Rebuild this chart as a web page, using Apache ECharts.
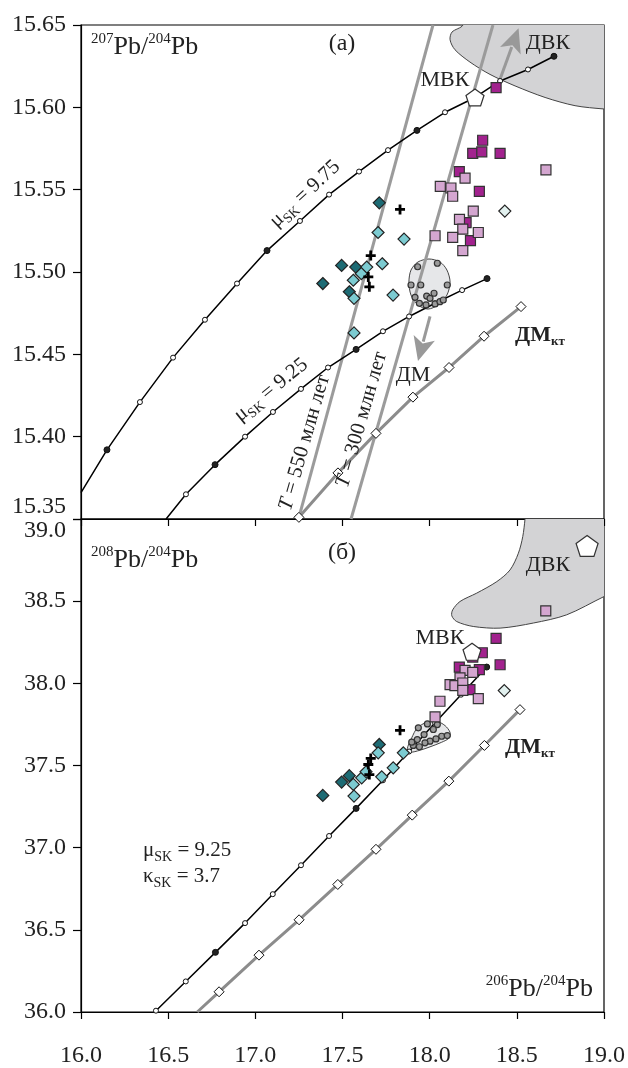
<!DOCTYPE html>
<html>
<head>
<meta charset="utf-8">
<script src="https://cdn.jsdelivr.net/npm/echarts@6/dist/echarts.min.js"></script>
<style>
  html, body { margin: 0; padding: 0; background: #fff; }
  #chart { width: 628px; height: 1068px; }
</style>
</head>
<body>
<div id="chart"></div>
<script>
// axis ticks
const xTicks = [16.0, 16.5, 17.0, 17.5, 18.0, 18.5, 19.0];
const yTicksA = [15.35, 15.40, 15.45, 15.50, 15.55, 15.60, 15.65];
const yTicksB = [36.0, 36.5, 37.0, 37.5, 38.0, 38.5, 39.0];

// panel (a) 207Pb/204Pb; third value: 0 no node, 1 open node, 2 filled node
const curveA975 = [
    [16.0, 15.366, 0], [16.149, 15.392, 2], [16.338, 15.421, 1], [16.528, 15.448, 1],
    [16.711, 15.471, 1], [16.895, 15.493, 1], [17.067, 15.513, 2], [17.256, 15.531, 1],
    [17.423, 15.547, 1], [17.595, 15.561, 1], [17.761, 15.574, 1], [17.927, 15.586, 2],
    [18.088, 15.597, 1], [18.26, 15.606, 0], [18.404, 15.616, 1], [18.564, 15.623, 1],
    [18.713, 15.631, 2]
];
const curveA925 = [
    [16.488, 15.35, 0], [16.602, 15.365, 1], [16.769, 15.383, 2], [16.941, 15.400, 1],
    [17.101, 15.415, 1], [17.262, 15.429, 1], [17.417, 15.442, 1], [17.578, 15.453, 2],
    [17.732, 15.464, 1], [17.882, 15.473, 1], [18.031, 15.481, 1], [18.186, 15.489, 1],
    [18.329, 15.496, 2]
];
const dmA = [
    [17.25, 15.351, 1], [17.474, 15.378, 1], [17.692, 15.402, 1], [17.904, 15.424, 1],
    [18.111, 15.442, 1], [18.312, 15.461, 1], [18.524, 15.479, 1]
];
const iso550 = [[17.25, 15.351], [18.019, 15.65]];
const iso300 = [[17.549, 15.35], [18.363, 15.65]];
const arrowsA = [
    [[18.40, 15.616], [18.51, 15.648]],
    [[18.002, 15.473], [17.933, 15.446]]
];
const dvkA = [
    [18.191, 15.66], [18.191, 15.65], [18.128, 15.6457], [18.117, 15.641], [18.145, 15.635],
    [18.231, 15.6275], [18.346, 15.620], [18.49, 15.613], [18.662, 15.606], [18.834, 15.601],
    [19.0, 15.599], [19.05, 15.599], [19.05, 15.66]
];
const fieldA = [
    [17.996, 15.5079], [18.059, 15.5061], [18.099, 15.5012], [18.117, 15.4939],
    [18.099, 15.4860], [18.048, 15.4800], [17.990, 15.4775], [17.933, 15.4800],
    [17.893, 15.4860], [17.881, 15.4939], [17.893, 15.5012], [17.933, 15.5061]
];
const fieldPtsA = [
    [17.931, 15.5032], [18.044, 15.5053], [17.893, 15.4921], [17.949, 15.4921],
    [18.101, 15.4921], [17.916, 15.4846], [17.983, 15.4854], [18.002, 15.4840],
    [18.025, 15.4871], [17.941, 15.4810], [17.979, 15.4800], [18.031, 15.4806],
    [18.059, 15.4820], [18.078, 15.4830]
];
const tealDarkA = [[17.711, 15.542], [17.495, 15.504], [17.576, 15.503], [17.539, 15.488], [17.387, 15.493]];
const tealLightA = [
    [17.704, 15.524], [17.853, 15.520], [17.728, 15.505], [17.639, 15.503], [17.608, 15.499],
    [17.562, 15.495], [17.566, 15.484], [17.790, 15.486], [17.566, 15.463]
];
const tealPaleA = [[18.431, 15.537]];
const crossA = [[17.830, 15.538], [17.662, 15.510], [17.648, 15.497], [17.654, 15.491]];
const pinkDarkA = [
    [18.381, 15.612], [18.304, 15.580], [18.247, 15.572], [18.299, 15.573], [18.404, 15.572],
    [18.170, 15.561], [18.285, 15.549], [18.209, 15.530], [18.234, 15.519]
];
const pinkLightA = [
    [18.667, 15.562], [18.203, 15.557], [18.061, 15.552], [18.122, 15.551], [18.132, 15.546],
    [18.250, 15.537], [18.171, 15.532], [18.190, 15.526], [18.279, 15.524], [18.031, 15.522],
    [18.132, 15.521], [18.190, 15.513]
];
const mbkA = [[18.26, 15.606]];

// panel (б) 208Pb/204Pb
const curveB = [
    [16.43, 36.008, 1], [16.601, 36.186, 1], [16.771, 36.363, 2], [16.941, 36.541, 1],
    [17.100, 36.717, 1], [17.262, 36.893, 1], [17.423, 37.071, 1], [17.578, 37.239, 2],
    [17.732, 37.41, 1], [17.882, 37.585, 1], [18.031, 37.76, 1], [18.180, 37.931, 1],
    [18.327, 38.099, 2]
];
const dmB = [
    [16.667, 36.0, 0], [16.792, 36.123, 1], [17.021, 36.346, 1], [17.251, 36.561, 1],
    [17.473, 36.776, 1], [17.692, 36.990, 1], [17.900, 37.198, 1], [18.110, 37.405, 1],
    [18.314, 37.622, 1], [18.518, 37.840, 1]
];
const dvkB = [
    [18.55, 39.05], [18.547, 39.0], [18.534, 38.893], [18.509, 38.792], [18.461, 38.690],
    [18.385, 38.619], [18.270, 38.549], [18.174, 38.498], [18.132, 38.447], [18.127, 38.411],
    [18.155, 38.376], [18.250, 38.346], [18.404, 38.336], [18.595, 38.367], [18.786, 38.417],
    [19.0, 38.528], [19.05, 38.55], [19.05, 39.05]
];
const fieldB = [
    [17.8717, 37.6014], [17.897, 37.6682], [17.9291, 37.7289], [17.983, 37.763],
    [18.0404, 37.769], [18.088, 37.7429], [18.1167, 37.7022], [18.1127, 37.6682],
    [18.069, 37.6415], [18.002, 37.6136], [17.9446, 37.5929], [17.8873, 37.5808]
];
const fieldPtsB = [
    [17.935, 37.729], [17.987, 37.753], [18.044, 37.749], [18.021, 37.719], [18.069, 37.678],
    [18.101, 37.682], [17.968, 37.688], [17.929, 37.658], [18.002, 37.648], [18.036, 37.662],
    [17.906, 37.622], [17.941, 37.614], [17.973, 37.638], [17.897, 37.642]
];
const tealDarkB = [[17.387, 37.318], [17.495, 37.399], [17.539, 37.438], [17.711, 37.628]];
const tealLightB = [
    [17.562, 37.385], [17.610, 37.425], [17.635, 37.462], [17.705, 37.577], [17.725, 37.431],
    [17.791, 37.486], [17.849, 37.577], [17.566, 37.314]
];
const tealPaleB = [[18.428, 37.956]];
const crossB = [[17.830, 37.714], [17.662, 37.543], [17.648, 37.506], [17.654, 37.445]];
const pinkDarkB = [
    [18.381, 38.273], [18.302, 38.186], [18.247, 38.160], [18.170, 38.099], [18.285, 38.083],
    [18.404, 38.113], [18.231, 37.962]
];
const pinkLightB = [
    [18.666, 38.441], [18.203, 38.079], [18.247, 38.067], [18.174, 38.033], [18.117, 37.992],
    [18.145, 37.986], [18.190, 38.002], [18.190, 37.957], [18.279, 37.907], [18.059, 37.891],
    [18.031, 37.796]
];
const mbkB = [[18.243, 38.192]];
const dvkPointB = [[18.903, 38.836]];

const FONT = '"Liberation Serif", "Times New Roman", serif';
const INK = '#222';
const PENTAGON = 'path://M10,0L19.5,6.9L15.9,18.1L4.1,18.1L0.5,6.9Z';
const CROSS = 'path://M3.6,0H6.4V3.6H10V6.4H6.4V10H3.6V6.4H0V3.6H3.6Z';

let chart = echarts.init(document.getElementById('chart'));

function xy(arr) {
    return arr.map(p => [p[0], p[1]]);
}

function lineSeries(points, g, color, width, z) {
    return {
        type: 'line', xAxisIndex: g, yAxisIndex: g, data: xy(points),
        showSymbol: false, symbol: 'none', silent: true, z: z,
        lineStyle: { color: color, width: width }
    };
}

function nodeSeries(points, g, kind, symbol, size, fill, z) {
    return {
        type: 'scatter', xAxisIndex: g, yAxisIndex: g, silent: true, z: z,
        data: xy(points.filter(p => p[2] === kind)),
        symbol: symbol, symbolSize: size,
        itemStyle: { color: fill, borderColor: '#111', borderWidth: 1, opacity: 1 }
    };
}

function markSeries(points, g, symbol, size, fill, border, z) {
    return {
        type: 'scatter', xAxisIndex: g, yAxisIndex: g, silent: true, z: z,
        data: points, symbol: symbol, symbolSize: size,
        itemStyle: { color: fill, borderColor: border, borderWidth: border ? 1.2 : 0, opacity: 1 }
    };
}

function areaSeries(points, g, fill, z) {
    return {
        type: 'custom', xAxisIndex: g, yAxisIndex: g, silent: true, z: z, clip: true,
        data: [0],
        renderItem: function (params, api) {
            return {
                type: 'polygon',
                shape: { points: points.map(p => api.coord(p)), smooth: 0.3 },
                style: { fill: fill, stroke: '#444', lineWidth: 1 }
            };
        }
    };
}

function arrowSeries(arrows, g) {
    return {
        type: 'custom', xAxisIndex: g, yAxisIndex: g, silent: true, z: 3,
        data: arrows.map((a, i) => i),
        renderItem: function (params, api) {
            let a = arrows[params.dataIndex];
            let p0 = api.coord(a[0]);
            let p1 = api.coord(a[1]);
            let dx = p1[0] - p0[0], dy = p1[1] - p0[1];
            let len = Math.sqrt(dx * dx + dy * dy);
            let ux = dx / len, uy = dy / len;
            let bx = p1[0] - ux * 24, by = p1[1] - uy * 24;
            return {
                type: 'group',
                children: [{
                    type: 'line',
                    shape: { x1: p0[0], y1: p0[1], x2: bx + ux * 4, y2: by + uy * 4 },
                    style: { stroke: '#999', lineWidth: 3 }
                }, {
                    type: 'polygon',
                    shape: { points: [[p1[0], p1[1]], [bx - uy * 11, by + ux * 11],
                        [bx + ux * 6, by + uy * 6], [bx + uy * 11, by - ux * 11]] },
                    style: { fill: '#999' }
                }]
            };
        }
    };
}

function axisX(g, showLabels) {
    return {
        gridIndex: g, type: 'value',
        min: xTicks[0], max: xTicks[xTicks.length - 1], interval: xTicks[1] - xTicks[0],
        axisLine: { show: true, onZero: false, lineStyle: { color: '#000', width: 1.2 } },
        axisTick: { show: true, length: 7, lineStyle: { color: '#000', width: 1.2 } },
        splitLine: { show: false },
        axisLabel: {
            show: showLabels, margin: 32, fontSize: 24, fontFamily: FONT, color: INK,
            formatter: v => v.toFixed(1)
        }
    };
}

function axisY(g, ticks, digits, extra) {
    let label = {
        margin: 15, fontSize: 24, fontFamily: FONT, color: INK,
        formatter: v => v.toFixed(digits)
    };
    Object.assign(label, extra);
    return {
        gridIndex: g, type: 'value',
        min: ticks[0], max: ticks[ticks.length - 1],
        interval: +(ticks[1] - ticks[0]).toFixed(3),
        axisLine: { show: true, onZero: false, lineStyle: { color: '#000', width: 1.2 } },
        axisTick: { show: true, length: 8, lineStyle: { color: '#000', width: 1.2 } },
        splitLine: { show: false },
        axisLabel: label
    };
}

const richPb = {
    s: { fontSize: 15, fontFamily: FONT, fill: INK, verticalAlign: 'top', lineHeight: 15 },
    n: { fontSize: 26, fontFamily: FONT, fill: INK, verticalAlign: 'bottom', lineHeight: 28 }
};
const richSub = {
    n: { fontSize: 21, fontFamily: FONT, fill: INK, verticalAlign: 'top', lineHeight: 24 },
    i: { fontSize: 21, fontFamily: FONT, fill: INK, fontStyle: 'italic', verticalAlign: 'top', lineHeight: 24 },
    sub: { fontSize: 14, fontFamily: FONT, fill: INK, verticalAlign: 'bottom', lineHeight: 14 },
    b: { fontSize: 22, fontFamily: FONT, fill: INK, fontWeight: 'bold', verticalAlign: 'top', lineHeight: 24 },
    bs: { fontSize: 13, fontFamily: FONT, fill: INK, fontWeight: 'bold', verticalAlign: 'bottom', lineHeight: 13 }
};

function txt(x, y, text, align, rot, size) {
    return {
        type: 'text', x: x, y: y, rotation: (rot || 0) * Math.PI / 180, z: 100, silent: true,
        style: {
            text: text, rich: text.indexOf('{') === 0 ? (text.indexOf('Pb') > 0 ? richPb : richSub) : undefined,
            align: align || 'center', verticalAlign: 'middle',
            fill: INK, fontFamily: FONT, fontSize: size || 22
        }
    };
}

let option = {
    animation: false,
    backgroundColor: '#fff',
    grid: [
        { left: 81, right: 24, top: 25, height: 494, show: true, borderColor: '#000', borderWidth: 1.2 },
        { left: 81, right: 24, top: 519, height: 494, show: true, borderColor: '#000', borderWidth: 1.2 }
    ],
    xAxis: [axisX(0, false), axisX(1, true)],
    yAxis: [
        axisY(0, yTicksA, 2, { verticalAlignMinLabel: 'bottom' }),
        axisY(1, yTicksB, 1, { verticalAlignMaxLabel: 'top' })
    ],
    series: [
        // panel (a)
        areaSeries(dvkA, 0, '#d3d3d5', 1),
        areaSeries(fieldA, 0, '#e6e7e9', 1),
        lineSeries(iso550, 0, '#9b9b9b', 3, 2),
        lineSeries(iso300, 0, '#9b9b9b', 3, 2),
        lineSeries(dmA, 0, '#8c8c8c', 3, 2),
        lineSeries(curveA975, 0, '#000', 1.5, 2),
        lineSeries(curveA925, 0, '#000', 1.5, 2),
        arrowSeries(arrowsA, 0),
        nodeSeries(curveA975, 0, 1, 'circle', 5, '#fff', 3),
        nodeSeries(curveA975, 0, 2, 'circle', 6, '#222', 3),
        nodeSeries(curveA925, 0, 1, 'circle', 5, '#fff', 3),
        nodeSeries(curveA925, 0, 2, 'circle', 6, '#222', 3),
        nodeSeries(dmA, 0, 1, 'diamond', 10, '#fff', 3),
        markSeries(fieldPtsA, 0, 'circle', 6, '#9a9a9a', '#333', 3),
        markSeries(tealDarkA, 0, 'diamond', 12, '#1d6b74', '#222', 4),
        markSeries(tealLightA, 0, 'diamond', 12, '#7ccbd1', '#222', 4),
        markSeries(tealPaleA, 0, 'diamond', 12, '#e2f1ef', '#222', 4),
        markSeries(crossA, 0, CROSS, 10, '#000', null, 4),
        markSeries(pinkDarkA, 0, 'rect', 10, '#a2228e', '#333', 4),
        markSeries(pinkLightA, 0, 'rect', 10, '#d4a6d0', '#333', 4),
        markSeries(mbkA, 0, PENTAGON, [18, 17], '#fff', '#333', 5),
        // panel (б)
        areaSeries(dvkB, 1, '#d3d3d5', 1),
        areaSeries(fieldB, 1, '#e6e7e9', 1),
        lineSeries(dmB, 1, '#8c8c8c', 3, 2),
        lineSeries(curveB, 1, '#000', 1.5, 2),
        nodeSeries(curveB, 1, 1, 'circle', 5, '#fff', 3),
        nodeSeries(curveB, 1, 2, 'circle', 6, '#222', 3),
        nodeSeries(dmB, 1, 1, 'diamond', 10, '#fff', 3),
        markSeries(fieldPtsB, 1, 'circle', 6, '#9a9a9a', '#333', 3),
        markSeries(tealDarkB, 1, 'diamond', 12, '#1d6b74', '#222', 4),
        markSeries(tealLightB, 1, 'diamond', 12, '#7ccbd1', '#222', 4),
        markSeries(tealPaleB, 1, 'diamond', 12, '#e2f1ef', '#222', 4),
        markSeries(crossB, 1, CROSS, 10, '#000', null, 4),
        markSeries(pinkDarkB, 1, 'rect', 10, '#a2228e', '#333', 4),
        markSeries(pinkLightB, 1, 'rect', 10, '#d4a6d0', '#333', 4),
        markSeries(mbkB, 1, PENTAGON, [18, 17], '#fff', '#333', 5),
        markSeries(dvkPointB, 1, PENTAGON, [22, 21], '#fff', '#333', 5)
    ],
    graphic: [
        txt(91, 46, '{s|207}{n|Pb/}{s|204}{n|Pb}', 'left'),
        txt(342, 44, '(a)', 'center', 0, 24),
        txt(445, 80, 'МВК'),
        txt(548, 43, 'ДВК'),
        txt(413, 375, 'ДМ'),
        txt(515, 336, '{b|ДМ}{bs|кт}', 'left'),
        txt(306, 195, '{n|μ}{sub|SK}{n| = 9.75}', 'center', 43),
        txt(272, 391, '{n|μ}{sub|SK}{n| = 9.25}', 'center', 39),
        txt(306, 443, '{i|T}{n| = 550 млн лет}', 'center', 74),
        txt(363, 420, '{i|T}{n| = 300 млн лет}', 'center', 74),

        txt(91, 559, '{s|208}{n|Pb/}{s|204}{n|Pb}', 'left'),
        txt(342, 553, '(б)', 'center', 0, 24),
        txt(548, 565, 'ДВК'),
        txt(440, 638, 'МВК'),
        txt(505, 748, '{b|ДМ}{bs|кт}', 'left'),
        txt(143, 852, '{n|μ}{sub|SK}{n| = 9.25}', 'left'),
        txt(143, 878, '{n|κ}{sub|SK}{n| = 3.7}', 'left'),
        txt(593, 988, '{s|206}{n|Pb/}{s|204}{n|Pb}', 'right')
    ]
};

if (option && typeof option === 'object') {
    chart.setOption(option);
}
</script>
</body>
</html>
